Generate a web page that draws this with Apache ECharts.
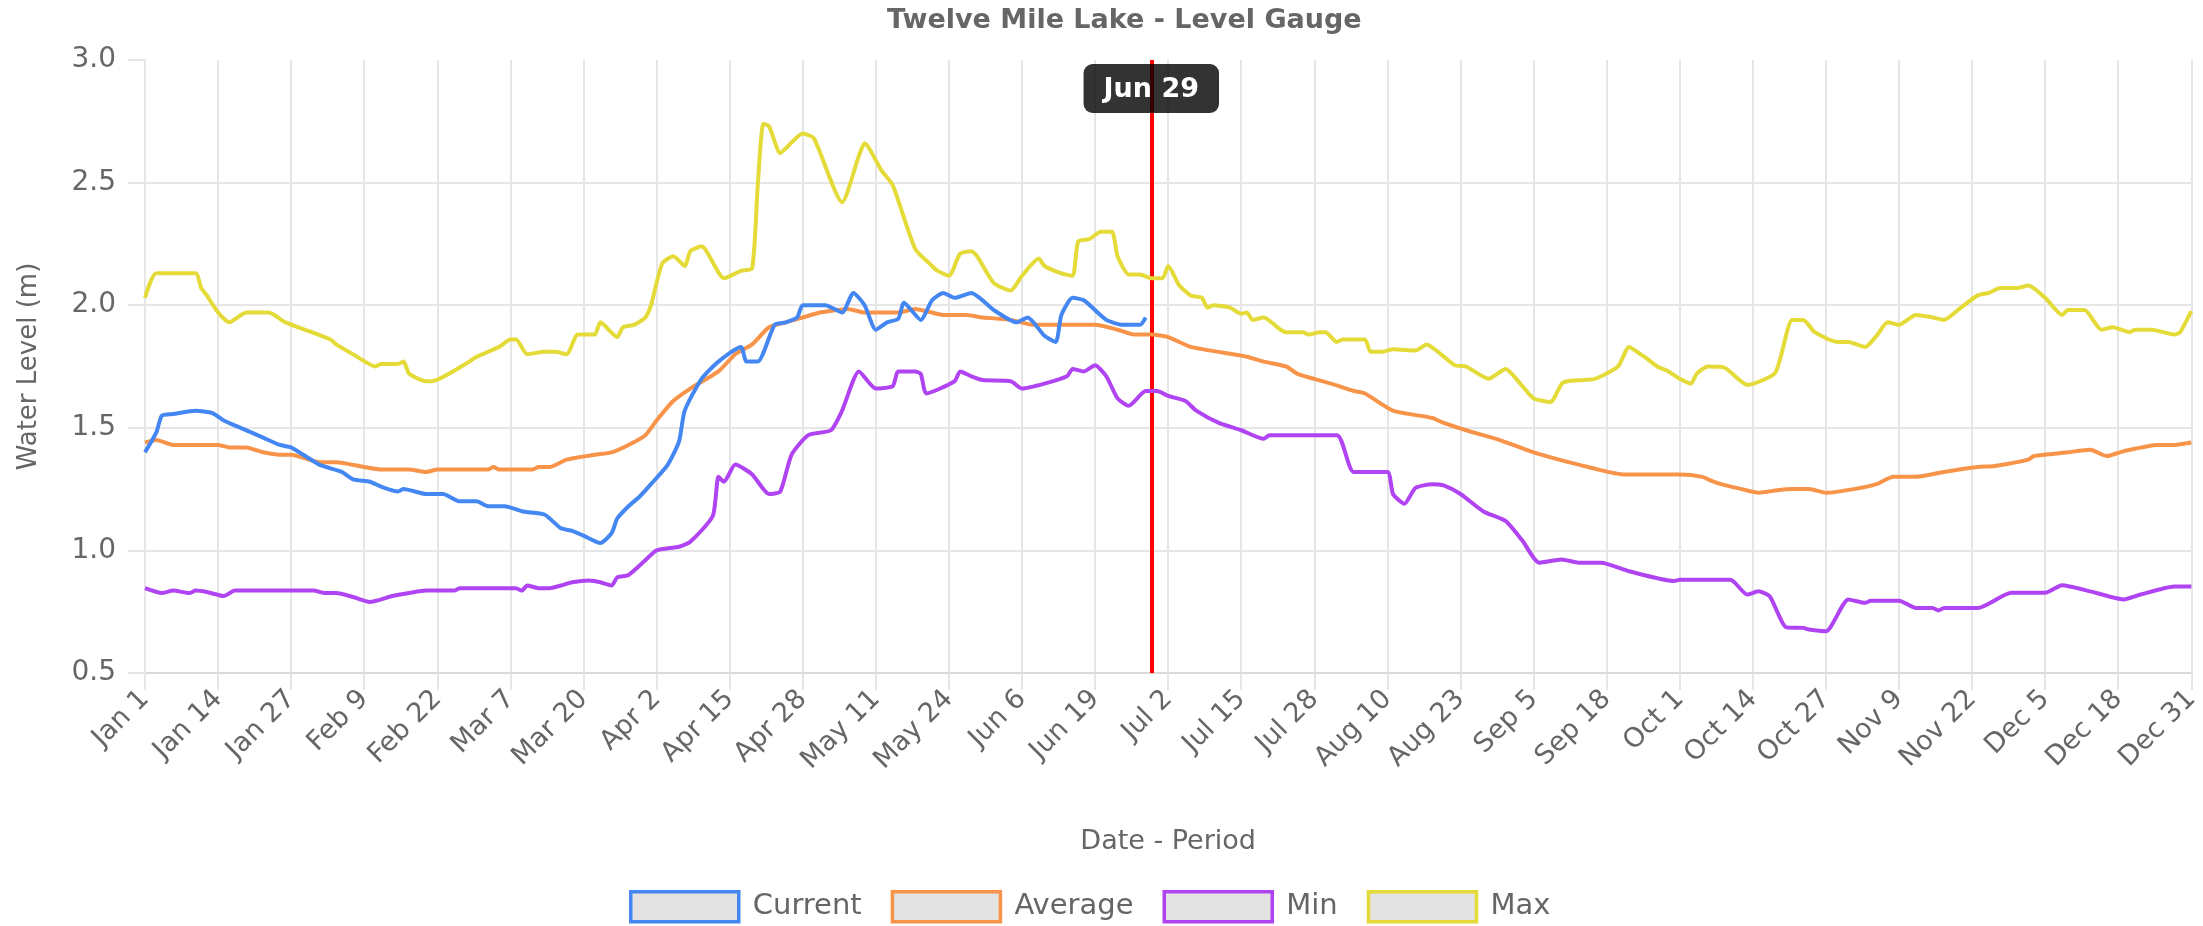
<!DOCTYPE html>
<html>
<head>
    <meta charset="UTF-8">
    <title>Twelve Mile Lake - Level Gauge</title>
    <script src="https://cdn.jsdelivr.net/npm/echarts@6/dist/echarts.min.js"></script>
    <style>
        html, body { margin: 0; padding: 0; background: #fff; }
        #main { width: 2203px; height: 926px; }
    </style>
</head>
<body>
<div id="main"></div>
<script type="text/javascript">
    // tick labels, one every 13 days (day 0 = Jan 1, day 364 = Dec 31)
    var tickLabels = ['Jan 1', 'Jan 14', 'Jan 27', 'Feb 9', 'Feb 22', 'Mar 7', 'Mar 20', 'Apr 2', 'Apr 15',
        'Apr 28', 'May 11', 'May 24', 'Jun 6', 'Jun 19', 'Jul 2', 'Jul 15', 'Jul 28', 'Aug 10', 'Aug 23',
        'Sep 5', 'Sep 18', 'Oct 1', 'Oct 14', 'Oct 27', 'Nov 9', 'Nov 22', 'Dec 5', 'Dec 18', 'Dec 31'];
    var seriesNames = ['Current', 'Average', 'Min', 'Max'];
    var markerDay = 179;
    var markerLabel = 'Jun 29';

    // [day of year, water level (m)]
    var currentLevel = [
        [0, 1.40], [2, 1.48], [3, 1.55], [5, 1.556], [9, 1.57], [12, 1.56], [14, 1.53], [17, 1.50],
        [21, 1.46], [24, 1.43], [26, 1.42], [31, 1.35], [35, 1.32], [37, 1.29], [40, 1.28], [42, 1.26],
        [45, 1.24], [46, 1.25], [50, 1.23], [53, 1.23], [56, 1.20], [59, 1.20], [61, 1.18], [64, 1.18],
        [67, 1.16], [71, 1.147], [72, 1.13], [74, 1.09], [76, 1.08], [78, 1.06], [81, 1.03], [83, 1.07],
        [84, 1.13], [86, 1.18], [88, 1.22], [90, 1.27], [93, 1.35], [95, 1.445], [96, 1.57], [99, 1.70],
        [102, 1.77], [106, 1.83], [107, 1.77], [109, 1.77], [112, 1.92], [114, 1.93], [116, 1.95],
        [117, 2.0], [121, 2.0], [124, 1.97], [126, 2.05], [128, 2.0], [130, 1.90], [132, 1.93],
        [134, 1.945], [135, 2.01], [138, 1.94], [140, 2.02], [142, 2.05], [144, 2.03], [147, 2.05],
        [151, 1.98], [155, 1.93], [157, 1.95], [160, 1.875], [162, 1.85], [163, 1.96], [165, 2.03],
        [167, 2.02], [171, 1.94], [174, 1.92], [177, 1.92], [178, 1.95]
    ];
    var averageLevel = [
        [0, 1.44], [2, 1.45], [5, 1.43], [13, 1.43], [15, 1.42], [18, 1.42], [21, 1.40], [24, 1.39],
        [26, 1.39], [31, 1.36], [34, 1.36], [39, 1.34], [42, 1.33], [47, 1.33], [50, 1.32], [52, 1.33],
        [61, 1.33], [62, 1.34], [63, 1.33], [69, 1.33], [70, 1.34], [72, 1.34], [75, 1.37], [80, 1.39],
        [83, 1.40], [86, 1.43], [89, 1.47], [91, 1.53], [94, 1.61], [97, 1.66], [102, 1.73], [105, 1.80],
        [108, 1.84], [111, 1.91], [114, 1.93], [117, 1.95], [120, 1.97], [123, 1.98], [125, 1.985],
        [128, 1.97], [134, 1.97], [137, 1.985], [140, 1.97], [142, 1.96], [146, 1.96], [149, 1.95],
        [154, 1.94], [158, 1.92], [169, 1.92], [173, 1.90], [176, 1.88], [179, 1.88], [182, 1.87],
        [186, 1.83], [196, 1.79], [199, 1.77], [203, 1.75], [205, 1.72], [211, 1.68], [215, 1.65],
        [217, 1.64], [222, 1.57], [229, 1.54], [231, 1.52], [235, 1.49], [241, 1.45], [247, 1.40],
        [255, 1.35], [263, 1.31], [273, 1.31], [277, 1.30], [279, 1.28], [281, 1.266], [284, 1.25],
        [287, 1.235], [290, 1.244], [293, 1.25], [296, 1.25], [299, 1.235], [304, 1.25], [308, 1.27],
        [311, 1.30], [315, 1.30], [320, 1.32], [326, 1.34], [329, 1.344], [335, 1.37], [336, 1.385],
        [342, 1.40], [346, 1.41], [349, 1.385], [352, 1.405], [358, 1.43], [361, 1.43], [364, 1.44]
    ];
    var minLevel = [
        [0, 0.846], [3, 0.826], [5, 0.836], [8, 0.826], [9, 0.836], [11, 0.83], [14, 0.814], [16, 0.836],
        [30, 0.836], [32, 0.826], [34, 0.826], [37, 0.81], [40, 0.79], [44, 0.814], [47, 0.826],
        [50, 0.836], [55, 0.836], [56, 0.846], [66, 0.846], [67, 0.836], [68, 0.857], [70, 0.846],
        [72, 0.846], [74, 0.857], [76, 0.87], [79, 0.877], [81, 0.87], [83, 0.857], [84, 0.89],
        [86, 0.90], [89, 0.96], [91, 1.0], [95, 1.015], [97, 1.035], [101, 1.14], [102, 1.30],
        [103, 1.28], [105, 1.35], [108, 1.31], [111, 1.23], [113, 1.24], [115, 1.39], [118, 1.47],
        [122, 1.49], [124, 1.57], [127, 1.73], [130, 1.66], [133, 1.67], [134, 1.73], [137, 1.73],
        [138, 1.72], [139, 1.64], [144, 1.69], [145, 1.73], [147, 1.71], [149, 1.695], [154, 1.69],
        [156, 1.66], [160, 1.68], [164, 1.71], [165, 1.74], [167, 1.73], [169, 1.755], [171, 1.71],
        [173, 1.62], [175, 1.59], [178, 1.65], [180, 1.65], [182, 1.63], [185, 1.61], [187, 1.57],
        [191, 1.52], [195, 1.49], [199, 1.455], [200, 1.47], [212, 1.47], [215, 1.32], [221, 1.32],
        [222, 1.23], [224, 1.19], [226, 1.255], [229, 1.27], [231, 1.265], [234, 1.23], [238, 1.16],
        [242, 1.12], [245, 1.04], [248, 0.95], [252, 0.963], [255, 0.95], [259, 0.95], [264, 0.915],
        [272, 0.875], [273, 0.88], [282, 0.88], [285, 0.82], [287, 0.833], [289, 0.813], [292, 0.686],
        [295, 0.684], [296, 0.677], [299, 0.67], [303, 0.80], [306, 0.786], [307, 0.795], [312, 0.795],
        [315, 0.765], [318, 0.765], [319, 0.755], [320, 0.765], [326, 0.765], [332, 0.827], [338, 0.827],
        [341, 0.858], [346, 0.833], [352, 0.80], [355, 0.82], [361, 0.853], [364, 0.853]
    ];
    var maxLevel = [
        [0, 2.03], [2, 2.13], [9, 2.13], [10, 2.07], [11, 2.04], [13, 1.97], [15, 1.93], [18, 1.97],
        [22, 1.97], [25, 1.93], [33, 1.86], [34, 1.84], [37, 1.80], [41, 1.75], [42, 1.76], [45, 1.76],
        [46, 1.77], [47, 1.72], [50, 1.69], [51, 1.69], [57, 1.76], [59, 1.79], [63, 1.83], [65, 1.86],
        [66, 1.86], [68, 1.80], [71, 1.81], [73, 1.81], [75, 1.80], [77, 1.88], [80, 1.88], [81, 1.93],
        [84, 1.87], [85, 1.91], [87, 1.92], [89, 1.95], [90, 2.00], [92, 2.17], [94, 2.20], [96, 2.16],
        [97, 2.22], [99, 2.24], [103, 2.11], [106, 2.14], [108, 2.15], [109, 2.49], [110, 2.74],
        [111, 2.73], [113, 2.62], [114, 2.64], [117, 2.70], [119, 2.68], [124, 2.42], [127, 2.61],
        [128, 2.66], [131, 2.55], [133, 2.49], [137, 2.23], [140, 2.16], [141, 2.14], [143, 2.12],
        [145, 2.21], [147, 2.22], [148, 2.20], [151, 2.09], [154, 2.06], [156, 2.12], [159, 2.19],
        [160, 2.16], [163, 2.13], [165, 2.12], [166, 2.26], [168, 2.27], [170, 2.30], [172, 2.30],
        [173, 2.20], [175, 2.125], [177, 2.125], [179, 2.11], [181, 2.11], [182, 2.16], [184, 2.08],
        [186, 2.04], [188, 2.03], [189, 1.99], [190, 2.0], [193, 1.99], [195, 1.965], [196, 1.97],
        [197, 1.94], [199, 1.95], [202, 1.90], [203, 1.89], [206, 1.89], [207, 1.88], [209, 1.89],
        [210, 1.89], [212, 1.85], [213, 1.86], [217, 1.86], [218, 1.81], [220, 1.81], [222, 1.82],
        [226, 1.815], [228, 1.84], [230, 1.81], [233, 1.755], [235, 1.75], [239, 1.70], [242, 1.74],
        [245, 1.67], [247, 1.62], [250, 1.605], [252, 1.68], [253, 1.69], [256, 1.695], [258, 1.70],
        [262, 1.75], [264, 1.83], [266, 1.80], [267, 1.785], [269, 1.75], [271, 1.73], [273, 1.70],
        [275, 1.68], [276, 1.72], [278, 1.75], [281, 1.745], [285, 1.675], [290, 1.725], [293, 1.94],
        [295, 1.94], [297, 1.89], [301, 1.85], [303, 1.85], [306, 1.83], [308, 1.875], [310, 1.93],
        [312, 1.92], [315, 1.96], [318, 1.95], [320, 1.94], [323, 1.99], [326, 2.04], [328, 2.05],
        [330, 2.07], [333, 2.07], [335, 2.08], [338, 2.03], [341, 1.96], [342, 1.98], [345, 1.98],
        [348, 1.90], [350, 1.91], [353, 1.89], [354, 1.90], [357, 1.90], [361, 1.88], [362, 1.89],
        [364, 1.976]
    ];

    var colors = ['#4487f2', '#f7944a', '#b044f2', '#e4da38'];
    var font = 'DejaVu Sans';
    var gridColor = '#e6e6e6';

    var myChart = echarts.init(document.getElementById('main'));

    function lineSeries(name, data, color, z) {
        return {
            name: name,
            type: 'line',
            data: data,
            showSymbol: false,
            smooth: 0.2,
            z: z,
            lineStyle: { color: color, width: 4 },
            itemStyle: { color: color }
        };
    }

    var series = [
        lineSeries(seriesNames[0], currentLevel, colors[0], 8),
        lineSeries(seriesNames[1], averageLevel, colors[1], 7),
        lineSeries(seriesNames[2], minLevel, colors[2], 6),
        lineSeries(seriesNames[3], maxLevel, colors[3], 5)
    ];
    // today's marker
    series[0].markLine = {
        silent: true,
        symbol: ['none', 'none'],
        lineStyle: { color: '#ff0000', width: 4, type: 'solid' },
        label: {
            show: true,
            position: 'end',
            formatter: markerLabel,
            offset: [0, 58],
            backgroundColor: 'rgba(0,0,0,0.8)',
            borderRadius: 9,
            padding: [12, 20, 10, 20],
            color: '#fff',
            fontWeight: 'bold',
            fontSize: 27,
            fontFamily: font
        },
        data: [{ xAxis: markerDay }]
    };

    option = {
        animation: false,
        title: {
            text: 'Twelve Mile Lake - Level Gauge',
            left: 882,
            top: 2,
            textStyle: { fontFamily: font, fontSize: 27, fontWeight: 'bold', color: '#666' }
        },
        legend: {
            left: 624,
            top: 885,
            icon: 'rect',
            itemWidth: 108,
            itemHeight: 30,
            itemGap: 29,
            textStyle: { fontFamily: font, fontSize: 29, color: '#666', padding: [0, 0, 0, 9] },
            data: seriesNames.map(function (n, i) {
                return { name: n, itemStyle: { color: '#e3e3e3', borderColor: colors[i], borderWidth: 3.5 } };
            })
        },
        grid: {
            left: 145,
            right: 4,
            top: 60,
            bottom: 253,
            containLabel: false
        },
        xAxis: {
            type: 'value',
            min: 0,
            max: 364,
            interval: 13,
            name: 'Date - Period',
            nameLocation: 'middle',
            nameGap: 155,
            nameTextStyle: { fontFamily: font, fontSize: 27, color: '#666' },
            axisLine: { show: true, lineStyle: { color: '#dadada', width: 2 } },
            axisTick: { show: true, length: 17, lineStyle: { color: gridColor, width: 2 } },
            splitLine: { show: true, lineStyle: { color: gridColor, width: 2 } },
            axisLabel: {
                rotate: 45,
                margin: 22,
                fontFamily: font,
                fontSize: 27,
                color: '#666',
                formatter: function (v) { return tickLabels[Math.round(v / 13)]; }
            }
        },
        yAxis: {
            type: 'value',
            min: 0.5,
            max: 3.0,
            interval: 0.5,
            name: 'Water Level (m)',
            nameLocation: 'middle',
            nameGap: 103,
            nameTextStyle: { fontFamily: font, fontSize: 26, color: '#666' },
            axisLine: { show: true, lineStyle: { color: gridColor, width: 2 } },
            axisTick: { show: true, length: 17, lineStyle: { color: gridColor, width: 2 } },
            splitLine: { show: true, showMaxLine: false, lineStyle: { color: gridColor, width: 2 } },
            axisLabel: {
                margin: 29,
                fontFamily: font,
                fontSize: 28,
                color: '#666',
                formatter: function (v) { return v.toFixed(1); }
            }
        },
        series: series
    };

    myChart.setOption(option);
</script>
</body>
</html>
